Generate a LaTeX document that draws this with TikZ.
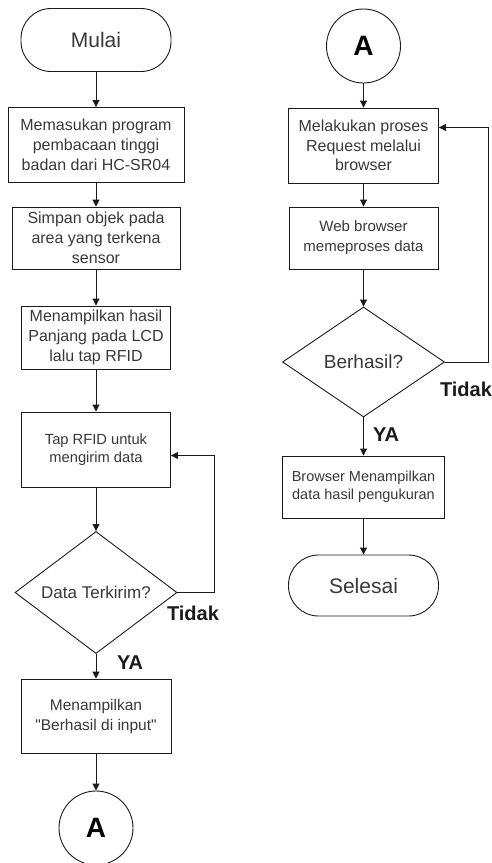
\documentclass[tikz,border=0pt]{standalone}
\usepackage{fontspec}
\setmainfont{Liberation Sans}
\usetikzlibrary{arrows.meta,shapes.geometric}
\definecolor{txt}{HTML}{383838}
\definecolor{ln}{HTML}{1A1A1A}
\begin{document}
\begin{tikzpicture}[x=1pt,y=-1pt,
  shp/.style={draw=ln,line width=0.9pt,align=center,inner sep=0pt,text=txt},
  proc/.style={shp,rectangle},
  term/.style={shp,rectangle,rounded corners=30pt},
  dec/.style={shp,diamond},
  conn/.style={shp,circle,minimum size=74pt,font=\fontsize{28}{32}\selectfont\bfseries,text=black},
  arr/.style={draw=ln,line width=0.9pt,-{Triangle[width=7pt,length=7pt]}},
  lab/.style={font=\fontsize{20}{22}\selectfont\bfseries,text=ln,inner sep=0pt}]
\useasboundingbox (0,0) rectangle (492,863);
% left column
\node[term,minimum width=150pt,minimum height=63pt,font=\fontsize{21}{24}\selectfont] (mulai) at (96,40) {Mulai};
\node[proc,minimum width=176pt,minimum height=75pt,font=\fontsize{16}{20}\selectfont] (b1) at (96,145) {Memasukan program\\pembacaan tinggi\\badan dari HC-SR04};
\node[proc,minimum width=168pt,minimum height=62pt,font=\fontsize{16}{20}\selectfont] (b2) at (96,238) {Simpan objek pada\\area yang terkena\\sensor};
\node[proc,minimum width=149pt,minimum height=63pt,font=\fontsize{16}{20}\selectfont] (b3) at (96,337.5) {Menampilkan hasil\\Panjang pada LCD\\lalu tap RFID};
\node[proc,minimum width=149pt,minimum height=75pt,font=\fontsize{14.7}{18.5}\selectfont] (b4) at (96,449.5) {Tap RFID untuk\\mengirim data};
\node[dec,minimum width=162pt,minimum height=111pt,font=\fontsize{17}{20}\selectfont] (d1) at (96,592.5) {Data Terkirim?};
\node[proc,minimum width=150pt,minimum height=74pt,font=\fontsize{15.5}{20}\selectfont] (b5) at (96,716) {Menampilkan\\\textquotedbl Berhasil di input\textquotedbl};
\node[conn] (a1) at (96,828) {A};
\node[lab] (t1) at (193,613) {Tidak};
\node[lab] (y1) at (130,663) {YA};
\draw[arr] (mulai) -- (b1);
\draw[arr] (b1) -- (b2);
\draw[arr] (b2) -- (b3);
\draw[arr] (b3) -- (b4);
\draw[arr] (b4) -- (d1);
\draw[arr] (d1) -- (b5);
\draw[arr] (b5) -- (a1);
\draw[arr] (d1.east) -- (214,592.5) |- ([yshift=-6pt]b4.east);
% right column
\node[conn] (a2) at (363.5,46) {A};
\node[proc,minimum width=150pt,minimum height=75pt,font=\fontsize{16}{19.5}\selectfont] (r1) at (363.5,145.5) {Melakukan proses\\Request melalui\\browser};
\node[proc,minimum width=149pt,minimum height=62pt,font=\fontsize{15}{20}\selectfont] (r2) at (363.5,238) {Web browser\\memeproses data};
\node[dec,minimum width=162pt,minimum height=110pt,font=\fontsize{19}{22}\selectfont] (d2) at (363.5,362) {Berhasil?};
\node[proc,minimum width=162pt,minimum height=62pt,font=\fontsize{14.5}{18}\selectfont] (r3) at (363.5,487) {Browser Menampilkan\\data hasil pengukuran};
\node[term,minimum width=150pt,minimum height=61pt,font=\fontsize{21}{24}\selectfont] (sel) at (363.5,585.5) {Selesai};
\node[lab] (t2) at (466,389) {Tidak};
\node[lab] (y2) at (386,435) {YA};
\draw[arr] (a2) -- (r1);
\draw[arr] (r1) -- (r2);
\draw[arr] (r2) -- (d2);
\draw[arr] (d2) -- (r3);
\draw[arr] (r3) -- (sel);
\draw[arr] (d2.east) -- (488,362) |- ([yshift=18pt]r1.east);
\end{tikzpicture}
\end{document}
